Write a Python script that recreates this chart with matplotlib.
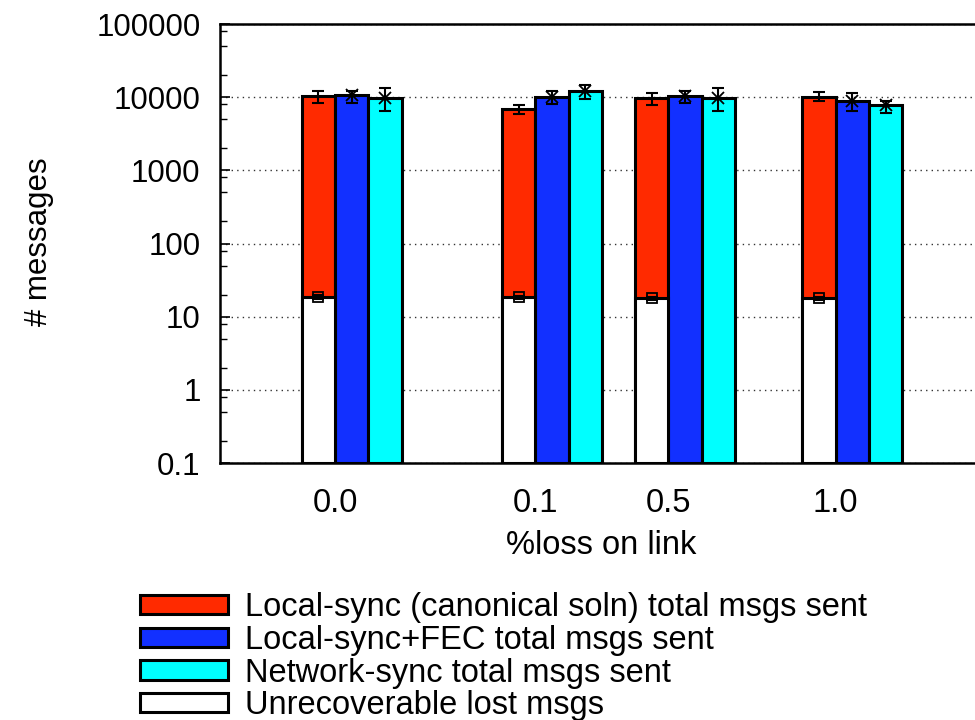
import matplotlib
matplotlib.use("Agg")
import matplotlib.pyplot as plt
import matplotlib.patches as mpatches
from matplotlib.ticker import LogLocator, NullFormatter, FixedLocator
import numpy as np

plt.rcParams['font.family'] = ['Liberation Sans', 'DejaVu Sans']

# data
loss_labels = ["0.0", "0.1", "0.5", "1.0"]
group_pos = [3.45, 9.46, 13.45, 18.47]   # gnuplot-style uneven spacing

local_sync = [10300, 6800, 9700, 10100]
local_sync_lo = [8300, 5850, 7800, 8800]
local_sync_hi = [12200, 7700, 11500, 11700]

local_fec = [10600, 10100, 10500, 8900]
local_fec_lo = [8300, 7950, 8400, 6500]
local_fec_hi = [12300, 12200, 12300, 11500]

network_sync = [9800, 12200, 9800, 7800]
network_sync_lo = [6500, 9300, 6500, 6000]
network_sync_hi = [13200, 14600, 13400, 8800]

lost = [18.5, 18.3, 17.8, 17.8]
lost_lo = [17.5, 17.3, 17.0, 17.0]
lost_hi = [19.5, 19.3, 18.6, 18.6]

labels = ["Local-sync (canonical soln) total msgs sent",
          "Local-sync+FEC total msgs sent",
          "Network-sync total msgs sent",
          "Unrecoverable lost msgs"]
colors = ["#ff2a00", "#1230ff", "#00ffff", "#ffffff"]

fig = plt.figure(figsize=(9.75, 7.2), dpi=100)
ax = fig.add_axes([220 / 975, 1 - 463 / 720, 790 / 975, 439 / 720])
ax.set_yscale("log")
ax.set_ylim(0.1, 100000)
ax.set_xlim(0, 23.7)

w = 1.0
pos = np.array(group_pos)
bottom = 0.1
edge = dict(edgecolor="black", linewidth=2.2, zorder=3)

ax.bar(pos - 0.5, np.array(local_sync) - bottom, w, bottom=bottom, color=colors[0], **edge)
ax.bar(pos + 0.5, np.array(local_fec) - bottom, w, bottom=bottom, color=colors[1], **edge)
ax.bar(pos + 1.5, np.array(network_sync) - bottom, w, bottom=bottom, color=colors[2], **edge)
ax.bar(pos - 0.5, np.array(lost) - bottom, w, bottom=bottom, color=colors[3], **edge)


def errs(x, y, lo, hi, marker, ms):
    y = np.array(y)
    yerr = [y - np.array(lo), np.array(hi) - y]
    ax.errorbar(x, y, yerr=yerr, fmt="none", ecolor="black", elinewidth=1.5,
                capsize=4, capthick=1.5, zorder=5)
    if marker is not None:
        ax.plot(x, y, linestyle="none", marker=marker, markersize=ms,
                markerfacecolor="none", markeredgecolor="black",
                markeredgewidth=1.3, zorder=6)


errs(pos - 0.5, local_sync, local_sync_lo, local_sync_hi, None, 0)
errs(pos + 0.5, local_fec, local_fec_lo, local_fec_hi, "x", 8)
errs(pos + 1.5, network_sync, network_sync_lo, network_sync_hi, "x", 8)
errs(pos - 0.5, lost, lost_lo, lost_hi, "s", 7)

# axes styling
ax.yaxis.set_major_locator(FixedLocator([0.1, 1, 10, 100, 1000, 10000, 100000]))
ax.set_yticklabels(["0.1", "1", "10", "100", "1000", "10000", "100000"])
ax.yaxis.set_minor_locator(LogLocator(base=10, subs=(2, 5, 8)))
ax.yaxis.set_minor_formatter(NullFormatter())
ax.tick_params(axis="y", which="major", direction="in", length=7, width=1.2,
               labelsize=22.5, pad=14)
ax.tick_params(axis="y", which="minor", direction="in", length=5, width=1.0)
ax.set_xticks(pos)
ax.set_xticklabels(loss_labels)
ax.tick_params(axis="x", which="both", length=0, labelsize=23.5, pad=18)
ax.tick_params(axis="y", which="both", right=False)

ax.yaxis.grid(True, which="major", linestyle=(0, (1, 3)), color="#333333",
              linewidth=1.0, zorder=0)
ax.set_axisbelow(True)
for s in ax.spines.values():
    s.set_linewidth(1.8)

fig.text(39 / 975, 1 - 242 / 720, "# messages", rotation=90, fontsize=22.5,
         ha="center", va="center")
fig.text(601 / 975, 1 - 545 / 720, "%loss on link", fontsize=23.5,
         ha="center", va="center")

handles = [mpatches.Patch(facecolor=c, edgecolor="black", linewidth=2.2, label=l)
           for c, l in zip(colors, labels)]
fig.legend(handles=handles, loc="upper left",
           bbox_to_anchor=(124 / 975, 1 - 576 / 720), frameon=False,
           fontsize=23.5, handlelength=2.7, handleheight=0.52,
           labelspacing=0.05, handletextpad=0.52, borderpad=0.0)

fig.savefig("out.png", dpi=100)
